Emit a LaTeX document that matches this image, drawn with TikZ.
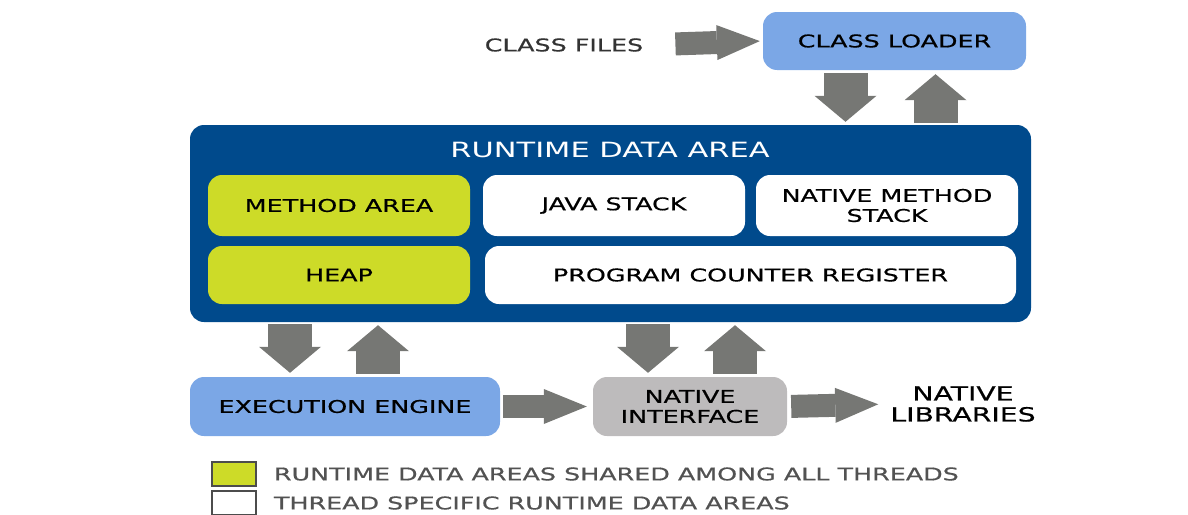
\documentclass[tikz,border=0pt]{standalone}
\usepackage{fontspec}
\setmainfont{DejaVu Sans}[FakeStretch=1.45, FakeBold=0.6]
\newfontfamily\titlefont{DejaVu Sans}[FakeStretch=1.45]
\usetikzlibrary{arrows.meta, positioning}

\definecolor{lightblue}{HTML}{7BA7E6}
\definecolor{darkblue}{HTML}{004A8C}
\definecolor{limegreen}{HTML}{CDDB28}
\definecolor{softgray}{HTML}{BDBBBC}
\definecolor{arrowgray}{HTML}{767774}

\tikzset{
  area/.style={rounded corners=14pt, inner sep=0pt, align=center, text=black,
    font=\fontsize{17.5}{20}\selectfont},
  plain/.style={inner sep=0pt, align=center, font=\fontsize{17.5}{20}\selectfont},
  harrow/.style={arrowgray, line width=23pt,
    -{Triangle[length=43pt, width=35pt, line width=0pt]}},
  varrow/.style={arrowgray, line width=44pt,
    -{Triangle[length=26pt, width=62pt, line width=0pt]}},
  keybox/.style={draw=black!70, line width=1.5pt, minimum width=44pt, minimum height=24pt, inner sep=0pt}
}

\begin{document}
\begin{tikzpicture}[x=1pt, y=-1pt]
\useasboundingbox (0,0) rectangle (1188,514);

\node at (564,45) (clsfiles) [plain, text=black!80] {CLASS FILES};
\node at (894.5,41) (loader) [area, fill=lightblue, minimum width=263pt, minimum height=58pt]
{CLASS LOADER};

% runtime data area and its parts
\node at (610.5,223.5) (rda) [area, fill=darkblue, minimum width=841pt, minimum height=197pt] {};
\node at (610,150) (rdatitle) [plain, text=white, font=\titlefont\fontsize{21}{24}\selectfont]
{RUNTIME DATA AREA};

\node at (339,205.5) (method) [area, fill=limegreen, minimum width=262pt, minimum height=61pt]
{METHOD AREA};
\node at (614,205.5) (jstack) [area, fill=white, minimum width=262pt, minimum height=61pt]
{JAVA STACK};
\node at (887,205.5) (nmstack) [area, fill=white, minimum width=262pt, minimum height=61pt]
{NATIVE METHOD\\STACK};
\node at (339,275) (heap) [area, fill=limegreen, minimum width=262pt, minimum height=58pt]
{HEAP};
\node at (750.5,275) (pcreg) [area, fill=white, minimum width=531pt, minimum height=58pt]
{PROGRAM COUNTER REGISTER};

% bottom row
\node at (345,406.5) (engine) [area, fill=lightblue, minimum width=310pt, minimum height=59pt]
{EXECUTION ENGINE};
\node at (690,406.5) (nif) [area, fill=softgray, minimum width=194pt, minimum height=59pt]
{NATIVE\\INTERFACE};
\node at (963,404) (nlib) [plain, text=black, font=\fontsize{19.5}{21}\selectfont]
{NATIVE\\LIBRARIES};

% legend
\node at (234,474) (sharedkey) [keybox, fill=limegreen] {};
\node at (234,503) (threadkey) [keybox, fill=white] {};
\node (sharedtxt) [plain, right=17pt of sharedkey, text=black!68] {RUNTIME DATA AREAS SHARED AMONG ALL THREADS};
\node (threadtxt) [plain, right=17pt of threadkey, text=black!68] {THREAD SPECIFIC RUNTIME DATA AREAS};

% arrow feet
\coordinate (ldown) at ([xshift=-49pt]loader.south);
\coordinate (lup) at ([xshift=41pt]loader.south);
\coordinate (edown) at ([xshift=-55pt]engine.north);
\coordinate (eup) at ([xshift=33pt]engine.north);
\coordinate (ndown) at ([xshift=-42pt]nif.north);
\coordinate (nup) at ([xshift=45pt]nif.north);

% block arrows
\draw[harrow, shorten <=32pt, shorten >=3pt] (clsfiles.east) -- (loader.west);
\draw[varrow, shorten <=3pt, shorten >=3pt] (ldown) -- (ldown |- rda.north);
\draw[varrow, shorten <=2pt, shorten >=4pt] (lup |- rda.north) -- (lup);
\draw[varrow, shorten <=2pt, shorten >=4pt] (edown |- rda.south) -- (edown);
\draw[varrow, shorten <=3pt, shorten >=3pt] (eup) -- (eup |- rda.south);
\draw[varrow, shorten <=2pt, shorten >=4pt] (ndown |- rda.south) -- (ndown);
\draw[varrow, shorten <=3pt, shorten >=3pt] (nup) -- (nup |- rda.south);
\draw[harrow, shorten <=3pt, shorten >=6pt] (engine.east) -- (nif.west);
\draw[harrow, shorten <=4pt, shorten >=12pt] (nif.east) -- (nlib.west);
\end{tikzpicture}
\end{document}
